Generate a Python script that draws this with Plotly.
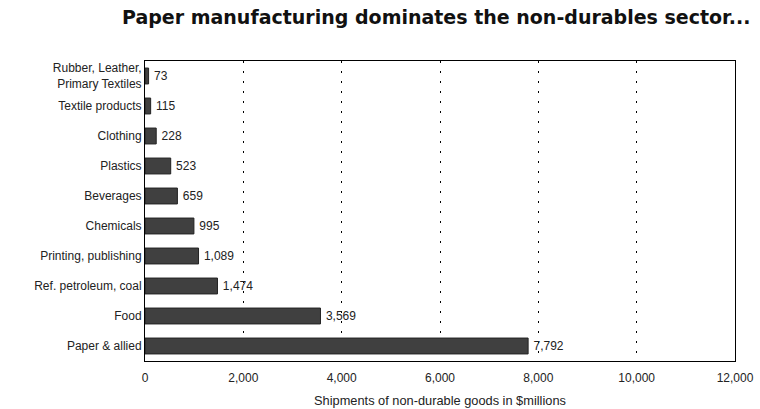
import plotly.graph_objects as go

categories = ["Paper & allied", "Food", "Ref. petroleum, coal", "Printing, publishing",
              "Chemicals", "Beverages", "Plastics", "Clothing", "Textile products",
              "Rubber, Leather,<br>Primary Textiles"]
values = [7792, 3569, 1474, 1089, 995, 659, 523, 228, 115, 73]
x_ticks = [0, 2000, 4000, 6000, 8000, 10000, 12000]
x_tick_labels = ["0", "2,000", "4,000", "6,000", "8,000", "10,000", "12,000"]

fig = go.Figure(go.Bar(
    x=values, y=categories, orientation="h",
    marker=dict(color="#404040", line=dict(color="#222222", width=1)),
    width=0.53,
    text=[f"\u2009{v:,}" for v in values], textposition="outside",
    textfont=dict(family="Liberation Sans, Arial", size=12, color="#222"),
    cliponaxis=False,
))

fig.update_layout(
    width=760, height=409,
    margin=dict(l=145, r=25, t=61, b=48, autoexpand=False),
    paper_bgcolor="white", plot_bgcolor="white",
    font=dict(family="Liberation Sans, Arial", size=12, color="#222"),
    showlegend=False,
    title=dict(text="<b>Paper manufacturing dominates the non-durables sector...</b>",
               x=0.574, xanchor="center", y=0.958, yanchor="middle",
               font=dict(family="DejaVu Sans", size=19, color="#111")),
    xaxis=dict(range=[0, 12000], tickvals=x_ticks, ticktext=x_tick_labels,
               showgrid=True, gridcolor="black", griddash="2px,8px", gridwidth=1,
               showline=True, linecolor="black", linewidth=1, mirror=True,
               zeroline=False, ticks="", tickfont=dict(size=12), automargin=False,
               ticklabelstandoff=6,
               title=dict(text="Shipments of non-durable goods in $millions",
                          font=dict(size=12.8), standoff=11)),
    yaxis=dict(showline=True, linecolor="black", linewidth=1, mirror=True,
               showgrid=False, ticks="", tickfont=dict(size=12), automargin=False,
               range=[-0.5, 9.5]),
)

fig.write_html("out.html", post_script="document.body.style.margin='0';",
               config={"displayModeBar": False})
